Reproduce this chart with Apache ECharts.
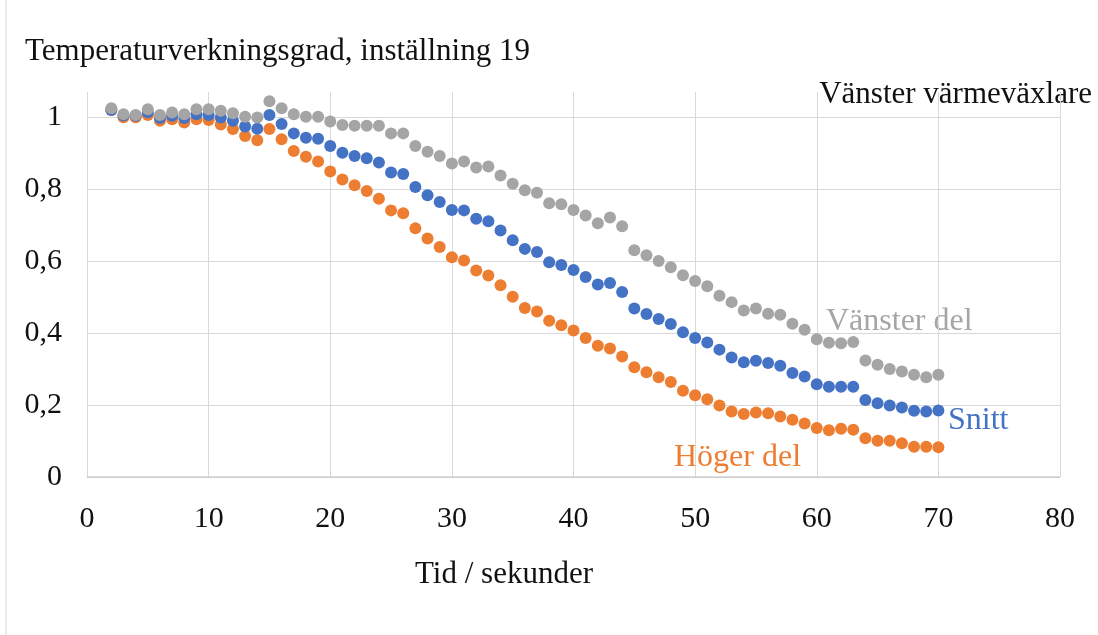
<!DOCTYPE html>
<html>
<head>
<meta charset="utf-8">
<title>Temperaturverkningsgrad</title>
<script src="https://cdn.jsdelivr.net/npm/echarts@6/dist/echarts.min.js"></script>
<style>
  html, body { margin: 0; padding: 0; background: #fff; }
  #chart { width: 1098px; height: 635px; }
</style>
</head>
<body>
<div id="chart"></div>
<script>
// tid i sekunder
const tid = [2, 3, 4, 5, 6, 7, 8, 9, 10, 11, 12, 13, 14, 15, 16, 17, 18, 19, 20,
  21, 22, 23, 24, 25, 26, 27, 28, 29, 30, 31, 32, 33, 34, 35, 36, 37, 38, 39, 40,
  41, 42, 43, 44, 45, 46, 47, 48, 49, 50, 51, 52, 53, 54, 55, 56, 57, 58, 59, 60,
  61, 62, 63, 64, 65, 66, 67, 68, 69, 70]

const vansterDel = [1.025, 1.008, 1.006, 1.022, 1.006, 1.013, 1.008, 1.022, 1.022,
  1.018, 1.011, 1.001, 0.999, 1.044, 1.025, 1.008, 1.001, 1.001, 0.988,
  0.978, 0.976, 0.976, 0.976, 0.955, 0.955, 0.920, 0.904, 0.892, 0.871,
  0.877, 0.860, 0.863, 0.838, 0.815, 0.797, 0.790, 0.761, 0.758, 0.742,
  0.727, 0.705, 0.721, 0.697, 0.630, 0.616, 0.600, 0.583, 0.561, 0.545,
  0.530, 0.504, 0.486, 0.463, 0.468, 0.454, 0.451, 0.426, 0.409, 0.383,
  0.373, 0.372, 0.375, 0.324, 0.312, 0.300, 0.293, 0.284, 0.277, 0.284]

const snitt = [1.020, 1.005, 1.004, 1.014, 0.998, 1.004, 0.998, 1.008, 1.006,
  0.999, 0.990, 0.974, 0.968, 1.006, 0.981, 0.955, 0.943, 0.940, 0.920,
  0.901, 0.892, 0.886, 0.874, 0.846, 0.842, 0.806, 0.783, 0.764, 0.742,
  0.741, 0.718, 0.711, 0.685, 0.658, 0.634, 0.625, 0.597, 0.589, 0.575,
  0.556, 0.535, 0.539, 0.514, 0.468, 0.453, 0.439, 0.425, 0.402, 0.386,
  0.374, 0.354, 0.332, 0.319, 0.323, 0.317, 0.309, 0.289, 0.279, 0.258,
  0.251, 0.251, 0.251, 0.214, 0.205, 0.199, 0.193, 0.184, 0.182, 0.185]

const hogerDel = [1.020, 1.000, 1.000, 1.006, 0.990, 0.994, 0.985, 0.994, 0.992,
  0.980, 0.967, 0.948, 0.936, 0.967, 0.939, 0.906, 0.890, 0.877, 0.849,
  0.827, 0.811, 0.795, 0.773, 0.741, 0.733, 0.691, 0.663, 0.639, 0.611,
  0.602, 0.574, 0.560, 0.533, 0.501, 0.470, 0.460, 0.434, 0.422, 0.407,
  0.386, 0.365, 0.357, 0.335, 0.305, 0.291, 0.277, 0.264, 0.240, 0.227,
  0.216, 0.199, 0.182, 0.175, 0.179, 0.177, 0.168, 0.159, 0.149, 0.136,
  0.130, 0.134, 0.131, 0.108, 0.101, 0.101, 0.094, 0.084, 0.084, 0.083]

const pairs = (ys) => tid.map((t, i) => [t, ys[i]])

const serif = '"Liberation Serif", "DejaVu Serif", serif'
const gridColor = '#d9d9d9'

const chart = echarts.init(document.getElementById('chart'))

chart.setOption({
  backgroundColor: '#fff',
  animation: false,
  title: {
    text: 'Temperaturverkningsgrad, inställning 19',
    left: 20,
    top: 31,
    textStyle: { fontFamily: serif, fontSize: 31, fontWeight: 'normal', color: '#111' }
  },
  grid: { left: 87, right: 38, top: 92, bottom: 158 },
  xAxis: {
    type: 'value',
    min: 0,
    max: 80,
    interval: 10,
    axisLine: { show: false },
    axisTick: { show: false },
    splitLine: { show: true, lineStyle: { color: gridColor, width: 1 } },
    axisLabel: { fontFamily: serif, fontSize: 30, color: '#111', margin: 27 }
  },
  yAxis: {
    type: 'value',
    min: 0,
    max: 1.07,
    interval: 0.2,
    axisLine: { show: false },
    axisTick: { show: false },
    splitLine: { show: true, showMaxLine: false, lineStyle: { color: gridColor, width: 1 } },
    axisLabel: {
      fontFamily: serif, fontSize: 30, color: '#111', margin: 25,
      showMaxLabel: false,
      formatter: (v) => {
        const r = Math.round(v * 10) / 10
        return String(r).replace('.', ',')
      }
    }
  },
  graphic: [
    {
      type: 'line',
      shape: { x1: 6, y1: 0, x2: 6, y2: 635 },
      style: { stroke: gridColor, lineWidth: 1 }
    },
    {
      type: 'line',
      shape: { x1: 87, y1: 477, x2: 1060, y2: 477 },
      style: { stroke: '#bfbfbf', lineWidth: 1 },
      z: 1
    },
    {
      type: 'text', left: 415, top: 559,
      style: { text: 'Tid / sekunder', font: '31px ' + serif, fill: '#111' }
    },
    {
      type: 'text', right: 6, top: 79,
      style: { text: 'Vänster värmeväxlare', font: '31px ' + serif, fill: '#111' }
    },
    {
      type: 'text', left: 826, top: 306,
      style: { text: 'Vänster del', font: '32px ' + serif, fill: '#a5a5a5' }
    },
    {
      type: 'text', left: 948, top: 405,
      style: { text: 'Snitt', font: '32px ' + serif, fill: '#4472c4' }
    },
    {
      type: 'text', left: 674, top: 442,
      style: { text: 'Höger del', font: '32px ' + serif, fill: '#ed7d31' }
    }
  ],
  series: [
    {
      name: 'Höger del',
      type: 'scatter',
      symbolSize: 12,
      itemStyle: { color: '#ed7d31', opacity: 1 },
      data: pairs(hogerDel)
    },
    {
      name: 'Snitt',
      type: 'scatter',
      symbolSize: 12,
      itemStyle: { color: '#4472c4', opacity: 1 },
      data: pairs(snitt)
    },
    {
      name: 'Vänster del',
      type: 'scatter',
      symbolSize: 12,
      itemStyle: { color: '#a5a5a5', opacity: 1 },
      data: pairs(vansterDel)
    }
  ]
})
</script>
</body>
</html>
